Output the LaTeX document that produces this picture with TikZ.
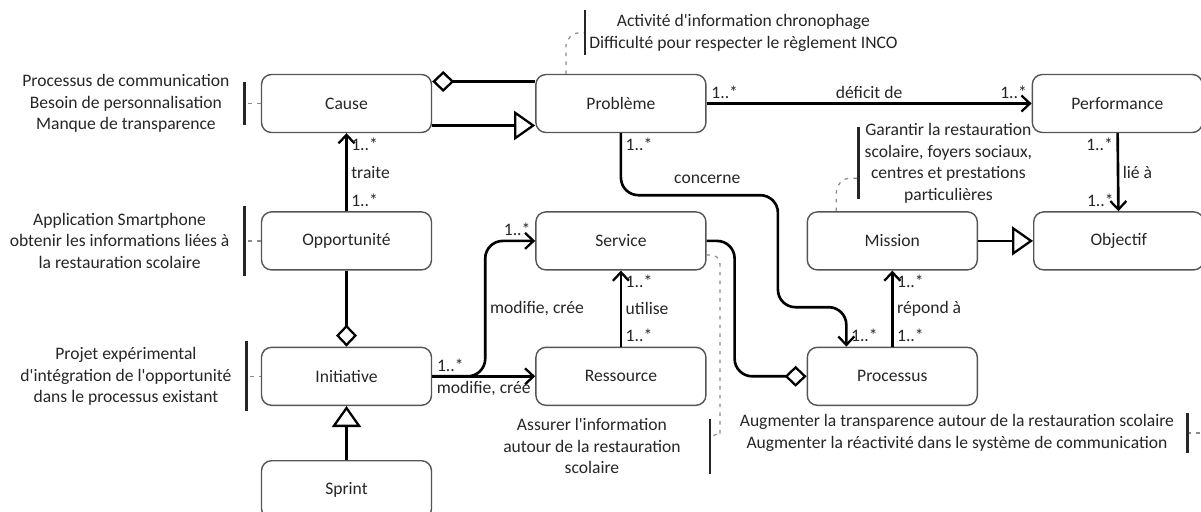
\documentclass[tikz,border=0pt]{standalone}
\usepackage{fontspec}
\setmainfont{Carlito}
\usetikzlibrary{arrows.meta, positioning, calc}
\definecolor{boxline}{HTML}{555555}
\definecolor{linkgrey}{HTML}{8A8A8A}
\definecolor{inkgrey}{HTML}{262626}
\newcommand{\apo}{\textquotesingle}
\tikzset{
  concept/.style={rectangle, rounded corners=2mm, draw=boxline, line width=0.8pt,
    minimum width=3.4cm, minimum height=1.16cm, align=center, text=inkgrey},
  note/.style={align=center, text=inkgrey, inner ysep=0pt},
  notebar/.style={line width=1.5pt, black!85},
  notelink/.style={linkgrey, line width=0.7pt, dash pattern=on 2pt off 3pt},
  assoc/.style={-{Straight Barb[length=1.7mm, width=3.2mm, line width=1.3pt]}, line width=1.5pt},
  aggr/.style={-{Diamond[open, length=4.4mm, width=4.2mm, line width=1.3pt]}, line width=1.5pt},
  gen/.style={-{Triangle[open, length=4.2mm, width=5.8mm, line width=1.3pt]}, line width=1.5pt},
  mult/.style={inner sep=2pt, text=inkgrey},
}

\begin{document}
\begin{tikzpicture}[font=\fontsize{10}{12.3}\selectfont]
\useasboundingbox (0,0) rectangle (24.02,-10.22);

% concepts
\node[concept] (cause) at (6.93,-2.07) {Cause};
\node[concept, right=2.06cm of cause] (prob) {Problème};
\node[concept, right=6.5cm of prob] (perf) {Performance};
\node[concept, below=1.56cm of cause] (opp) {Opportunité};
\node[concept, right=2.06cm of opp] (serv) {Service};
\node[concept, right=2cm of serv] (miss) {Mission};
\node[concept, right=1.1cm of miss] (obj) {Objectif};
\node[concept, below=1.52cm of opp] (init) {Initiative};
\node[concept, right=2.06cm of init] (ress) {Ressource};
\node[concept, right=2cm of ress] (proc) {Processus};
\node[concept, below=1.08cm of init] (sprint) {Sprint};

% notes
\node[note, inner xsep=3mm, left=3.2mm of cause] (ncause) {Processus de communication\\Besoin de personnalisation\\Manque de transparence};
\node[note, inner xsep=3mm, left=3.2mm of opp] (nopp) {Application Smartphone\\obtenir les informations liées à\\la restauration scolaire};
\node[note, inner xsep=3mm, left=2.8mm of init] (ninit) {Projet expérimental\\d\apo intégration de l\apo opportunité\\dans le processus existant};
\node[note, anchor=west, inner xsep=0.8mm] (nprob) at ([xshift=-7.2mm, yshift=8.2mm]prob.north) {Activité d\apo information chronophage\\Difficulté pour respecter le règlement INCO};
\node[note, anchor=west, inner xsep=1.2mm] (nmiss) at ([xshift=-6.8mm, yshift=9.6mm]miss.north) {Garantir la restauration\\scolaire, foyers sociaux,\\centres et prestations\\particulières};
\node[note, anchor=east, inner xsep=5.8mm] (nserv) at ([xshift=17.8mm, yshift=-8mm]ress.south) {Assurer l\apo information\\autour de la restauration\\scolaire};
\node[note, anchor=east, inner xsep=2.6mm] (nobj) at ([xshift=59mm, yshift=-5.4mm]proc.south) {Augmenter la transparence autour de la restauration scolaire\\Augmenter la réactivité dans le système de communication};

\draw[notelink, shorten <=2pt] (ncause.east) -- (cause.west);
\draw[notelink, shorten <=2pt] (nopp.east) -- (opp.west);
\draw[notelink, shorten <=2pt] (ninit.east) -- (init.west);
\draw[notelink, rounded corners=8pt] ([xshift=-11mm]prob.north) |- (nprob.west);
\draw[notelink, rounded corners=8pt] ([xshift=-11.2mm]miss.north) |- ([yshift=-3mm]nmiss.west);
\draw[notelink, rounded corners=5pt] ([yshift=-2.8mm]serv.east) -| ([xshift=2mm, yshift=4mm]nserv.east) to[out=-90, in=0] ([yshift=2mm]nserv.east);
\draw[notelink] (nobj.east) -- ++(6mm,0) |- (obj.east);

\draw[notebar] ([yshift=4.2mm]ncause.east) -- ([yshift=-4.2mm]ncause.east);
\draw[notebar] ([yshift=7mm]nopp.east) -- ([yshift=-7mm]nopp.east);
\draw[notebar] ([yshift=7mm]ninit.east) -- ([yshift=-7mm]ninit.east);
\draw[notebar] ([yshift=4.5mm]nprob.west) -- ([yshift=-4.5mm]nprob.west);
\draw[notebar] ([yshift=7.2mm]nmiss.west) -- ([yshift=-7.2mm]nmiss.west);
\draw[notebar] ([yshift=5.5mm]nserv.east) -- ([yshift=-5.5mm]nserv.east);
\draw[notebar] ([yshift=4mm]nobj.east) -- ([yshift=-4mm]nobj.east);

% relations
\draw[aggr] ([yshift=4.4mm]prob.west) -- ([yshift=4.4mm]cause.east);
\draw[gen] ([yshift=-4.4mm]cause.east) -- ([yshift=-4.4mm]prob.west);
\draw[assoc] (prob) -- node[mult, pos=0, above right]{1..*} node[mult, above]{déficit de} node[mult, pos=1, above left]{1..*} (perf);
\draw[assoc, rounded corners=10pt] (prob.south) -- node[mult, pos=0, below right]{1..*} ++(0,-12.4mm) -- node[mult, above=4pt, pos=0.55]{concerne} ++(31.4mm,0) -- ++(0,-22.4mm) -| node[mult, pos=1, above right]{1..*} ([xshift=-9.2mm]proc.north);
\draw[assoc] (opp) -- node[mult, pos=0, above right]{1..*} node[mult, right]{traite} node[mult, pos=1, below right]{1..*} (cause);
\draw[aggr] (opp) -- (init);
\draw[gen] (sprint) -- (init);
\draw[assoc, rounded corners=10pt] (init.east) -- ++(10.6mm,0) |- node[mult, pos=0.25, right]{modifie, crée} node[mult, pos=1, above left]{1..*} (serv.west);
\draw[assoc] (init) -- node[mult, pos=0, above right]{1..*} node[mult, below]{modifie, crée} (ress);
\draw[assoc] (ress) -- node[mult, pos=0, above right]{1..*} node[mult, right]{utilise} node[mult, pos=1, below right]{1..*} (serv);
\draw[aggr, rounded corners=10pt] (serv.east) -- ++(5.6mm,0) |- (proc.west);
\draw[assoc] (proc) -- node[mult, pos=0, above right]{1..*} node[mult, right]{répond à} node[mult, pos=1, below right]{1..*} (miss);
\draw[assoc] (perf) -- node[mult, pos=0, below left]{1..*} node[mult, right]{lié à} node[mult, pos=1, above left]{1..*} (obj);
\draw[gen] (miss) -- (obj);
\end{tikzpicture}
\end{document}
